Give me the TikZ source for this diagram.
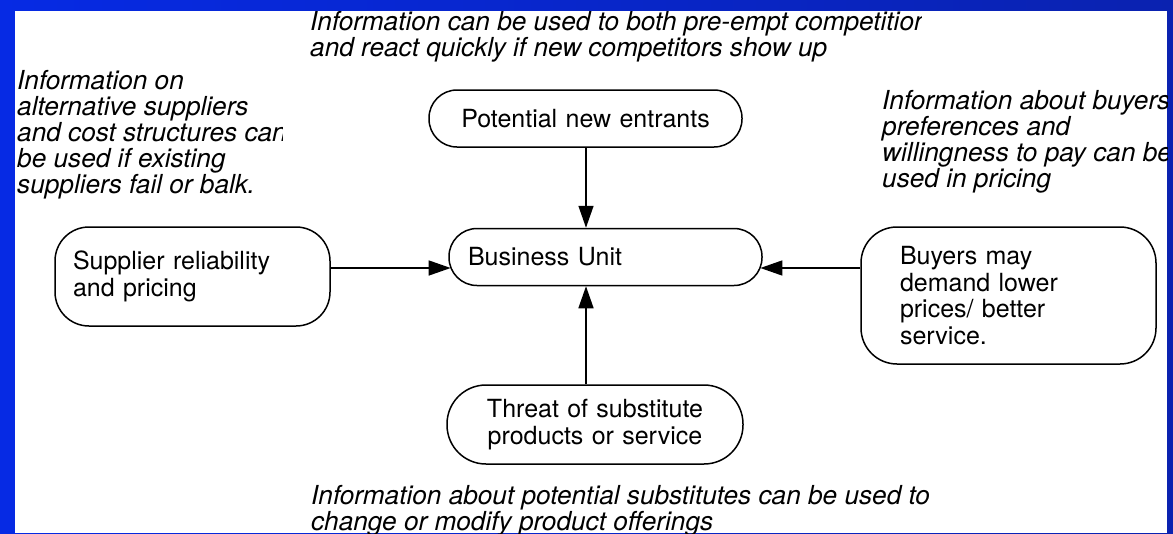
\documentclass[tikz,border=0pt]{standalone}
\usepackage{fontspec}
\setmainfont{TeX Gyre Heros}
\usetikzlibrary{arrows.meta,calc}
\definecolor{blueL}{RGB}{6,42,228}
\definecolor{blueR}{RGB}{10,34,176}
\newcommand\boxfont{\fontsize{25}{26.5}\selectfont}
\newcommand\notefont{\fontsize{26.2}{26}\selectfont\itshape}
\tikzset{
  box/.style={draw, line width=1.5pt, fill=white, font=\boxfont, inner ysep=0pt},
  arr/.style={line width=1.5pt, -{Triangle[length=22pt,width=15pt]}},
  note/.style={font=\notefont, inner sep=0pt, anchor=north west, align=left}
}
\begin{document}
\begin{tikzpicture}[x=1pt,y=-1pt]
\useasboundingbox (0,0) rectangle (1173,533);
\fill[left color=blueL, right color=blueR] (0,0) rectangle (1173,533);
\fill[white] (15,11) rectangle (1167,533);

\node[box, rounded corners=28pt, minimum width=313pt, minimum height=57pt,
      text width=275pt, inner xsep=19pt, align=center] (pne) at (585.5,118.5) {Potential new entrants};
\node[box, rounded corners=28pt, minimum width=313pt, minimum height=57pt,
      text width=275pt, inner xsep=19pt, align=left] (bu) at (605.5,257) {Business Unit};
\node[box, rounded corners=34pt, minimum width=275pt, minimum height=99pt,
      text width=239pt, inner xsep=18pt, align=left] (sup) at (192.5,276.5) {Supplier reliability\\and pricing};
\node[box, rounded corners=36pt, minimum width=295pt, minimum height=137pt,
      text width=217pt, inner xsep=39pt, align=left] (buy) at (1008.5,295.5) {Buyers may\\demand lower\\prices/ better\\service.};
\node[box, rounded corners=39pt, minimum width=296pt, minimum height=79pt,
      text width=258pt, inner xsep=19pt, align=center] (thr) at (595,424.5) {Threat of substitute\\products or service};

\coordinate (ay) at (0,268);
\coordinate (ax) at (586,0);
\draw[arr] (pne.south -| ax) -- (bu.north -| ax);
\draw[arr] (thr.north -| ax) -- (bu.south -| ax);
\draw[arr] (sup.east |- ay) -- ($(bu.west |- ay)+(2.4,0)$);
\draw[arr] (buy.west |- ay) -- ($(bu.east |- ay)+(-2.4,0)$);

\begin{scope}
\clip (15,11) rectangle (282,533);
\node[note] (nsup) at (17,70) {Information on\\alternative suppliers\\and cost structures can\\be used if existing\\suppliers fail or balk.};
\end{scope}
\begin{scope}
\clip (15,11) rectangle (921,533);
\node[note] (npne) at (310,11) {Information can be used to both pre-empt competition\\and react quickly if new competitors show up};
\end{scope}
\begin{scope}
\clip (15,11) rectangle (1167,533);
\node[note] (nbuy) at (882,90) {Information about buyers\\preferences and\\willingness to pay can be\\used in pricing};
\node[note, font=\fontsize{26.2}{24}\selectfont\itshape] (nthr) at (311,485) {Information about potential substitutes can be used to\\change or modify product offerings};
\end{scope}
\end{tikzpicture}
\end{document}
